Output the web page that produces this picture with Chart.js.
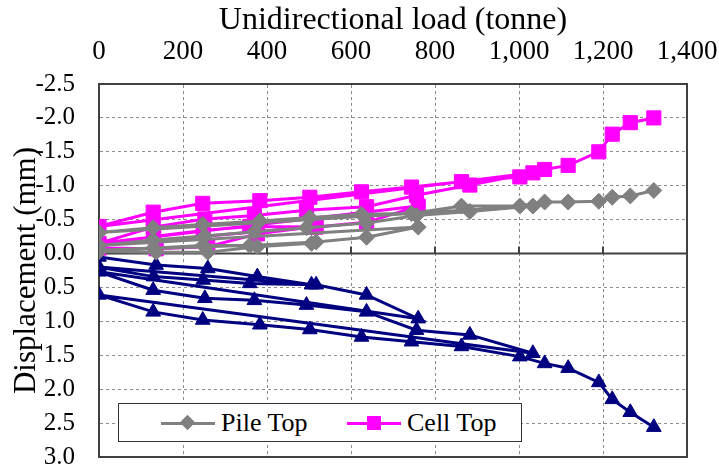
<!DOCTYPE html>
<html>
<head>
<meta charset="utf-8">
<title>Unidirectional load test</title>
<script src="https://cdn.jsdelivr.net/npm/chart.js@4.4.1/dist/chart.umd.min.js"></script>
<style>
  body { margin: 0; background: #fff; }
  #wrap { position: relative; width: 719px; height: 473px; }
  #legend {
    position: absolute; left: 118px; top: 403px; width: 402px; height: 37px;
    border: 1px solid #333; background: #fff;
    font-family: "Liberation Serif", "Times New Roman", serif; font-size: 26px; color: #000;
  }
  .item { position: absolute; top: 0; height: 37px; display: flex; align-items: center; }
  .swatch { position: relative; width: 54px; height: 20px; margin-right: 6px; }
  .swatch .ln { position: absolute; left: 0; right: 0; top: 9px; height: 3px; }
  .swatch .mk { position: absolute; }
</style>
</head>
<body>
<div id="wrap">
  <canvas id="chart" width="719" height="473"></canvas>
  <div id="legend"></div>
</div>
<script>
// load sequence (tonne), 4 load cycles, each unloaded straight back to 0
const loads = [
  0, 136, 259, 377, 506,
  0, 130, 248, 359, 517, 637, 760,
  0, 129, 252, 370, 494, 637, 756, 883, 1033,
  0, 129, 247, 383, 502, 625, 744, 863, 1002, 1061, 1117, 1190, 1222, 1265, 1321
];
// displacements (mm), upward negative
const pileTop = [
  -0.03, -0.02, -0.02, -0.10, -0.15,
  -0.05, -0.08, -0.12, -0.12, -0.17, -0.24, -0.39,
  -0.12, -0.20, -0.26, -0.32, -0.38, -0.45, -0.56, -0.62, -0.70,
  -0.31, -0.38, -0.43, -0.48, -0.53, -0.58, -0.59, -0.70, -0.70, -0.76, -0.76, -0.77, -0.83, -0.85, -0.93
];
const cellTop = [
  -0.08, -0.07, -0.10, -0.29, -0.39,
  -0.12, -0.25, -0.34, -0.40, -0.39, -0.46, -0.70,
  -0.15, -0.39, -0.51, -0.56, -0.64, -0.69, -0.86, -1.01, -1.19,
  -0.40, -0.61, -0.74, -0.78, -0.83, -0.91, -0.98, -1.06, -1.13, -1.24, -1.30, -1.50, -1.76, -1.93, -2.00
];
const cellBottom = [
  0.05, 0.17, 0.22, 0.34, 0.46,
  0.20, 0.34, 0.39, 0.44, 0.46, 0.61, 0.96,
  0.27, 0.54, 0.66, 0.69, 0.76, 0.86, 1.13, 1.20, 1.47,
  0.61, 0.86, 0.98, 1.05, 1.12, 1.23, 1.30, 1.37, 1.52, 1.62, 1.69, 1.90, 2.15, 2.34, 2.56
];
const seriesNames = ["Pile Top", "Cell Top", "Cell Bottom"];
const xTickStep = 200;
const yTickStep = 0.5;

const serif = "'Liberation Serif', 'Times New Roman', serif";

function pts(values) {
  return loads.map((x, i) => ({ x: x, y: values[i] }));
}

// solid zero line with small ticks, plus right and bottom frame
const frame = {
  id: 'frame',
  beforeDatasetsDraw(chart) {
    const { ctx, chartArea: a, scales } = chart;
    const y0 = scales.y.getPixelForValue(0);
    ctx.save();
    ctx.strokeStyle = '#404040';
    ctx.lineWidth = 2;
    ctx.beginPath();
    ctx.moveTo(a.left, y0);
    ctx.lineTo(a.right, y0);
    scales.x.ticks.forEach(t => {
      const px = scales.x.getPixelForValue(t.value);
      ctx.moveTo(px, y0);
      ctx.lineTo(px, y0 - 7);
    });
    ctx.moveTo(a.right, a.top);
    ctx.lineTo(a.right, a.bottom);
    ctx.lineTo(a.left, a.bottom);
    ctx.stroke();
    ctx.restore();
  }
};

const chart = new Chart(document.getElementById('chart'), {
  type: 'line',
  data: {
    datasets: [
      {
        label: seriesNames[0], data: pts(pileTop),
        borderColor: '#808080', backgroundColor: '#808080', borderWidth: 3,
        pointStyle: 'rectRot', pointRadius: 8, pointBorderWidth: 1
      },
      {
        label: seriesNames[1], data: pts(cellTop),
        borderColor: '#ff00ff', backgroundColor: '#ff00ff', borderWidth: 3,
        pointStyle: 'rect', pointRadius: 10, pointBorderWidth: 1
      },
      {
        label: seriesNames[2], data: pts(cellBottom),
        borderColor: '#000080', backgroundColor: '#000080', borderWidth: 3,
        pointStyle: 'triangle', pointRadius: 8.5, pointBorderWidth: 1
      }
    ]
  },
  options: {
    responsive: false,
    animation: false,
    layout: { autoPadding: false, padding: { left: 0, top: 0, right: 32, bottom: 16 } },
    plugins: { legend: { display: false }, tooltip: { enabled: false } },
    scales: {
      x: {
        type: 'linear', position: 'top', min: 0, max: 1400,
        ticks: {
          stepSize: xTickStep, padding: 16, color: '#000', maxRotation: 0,
          font: { family: serif, size: 27 },
          callback: v => v.toLocaleString('en-US')
        },
        grid: { color: '#8c8c8c', drawTicks: false, lineWidth: 1 },
        border: { color: '#404040', width: 2, dash: [3, 3] },
        title: {
          display: true, text: 'Unidirectional load (tonne)', color: '#000',
          font: { family: serif, size: 32 }, padding: { top: 1, bottom: 0 }
        },
        afterFit: s => { s.height = 84; s.paddingLeft = 0; s.paddingRight = 0; }
      },
      y: {
        type: 'linear', reverse: true, min: -2.5, max: 3.0,
        ticks: {
          stepSize: yTickStep, padding: 24, color: '#000',
          font: { family: serif, size: 25 },
          callback: v => v.toFixed(1)
        },
        grid: { color: '#8c8c8c', drawTicks: false, lineWidth: 1 },
        border: { color: '#404040', width: 2, dash: [3, 3] },
        title: {
          display: true, text: 'Displacement (mm)', color: '#000',
          font: { family: serif, size: 31 }, padding: { top: 8, bottom: 0 }
        },
        afterFit: s => { s.width = 99; s.paddingTop = 0; s.paddingBottom = 0; }
      }
    }
  },
  plugins: [frame]
});

// legend box inside the plot, first two series only
const legend = document.getElementById('legend');
const lefts = [42, 228];
chart.data.datasets.slice(0, 2).forEach((ds, i) => {
  const item = document.createElement('div');
  item.className = 'item';
  item.style.left = lefts[i] + 'px';
  const sw = document.createElement('div');
  sw.className = 'swatch';
  const ln = document.createElement('div');
  ln.className = 'ln';
  ln.style.background = ds.borderColor;
  const mk = document.createElement('div');
  mk.className = 'mk';
  mk.style.background = ds.backgroundColor;
  if (ds.pointStyle === 'rectRot') {
    mk.style.width = '11px'; mk.style.height = '11px';
    mk.style.left = '21px'; mk.style.top = '4px';
    mk.style.transform = 'rotate(45deg)';
  } else {
    mk.style.width = '14px'; mk.style.height = '14px';
    mk.style.left = '20px'; mk.style.top = '3px';
  }
  sw.appendChild(ln);
  sw.appendChild(mk);
  const tx = document.createElement('span');
  tx.textContent = ds.label;
  item.appendChild(sw);
  item.appendChild(tx);
  legend.appendChild(item);
});
</script>
</body>
</html>
